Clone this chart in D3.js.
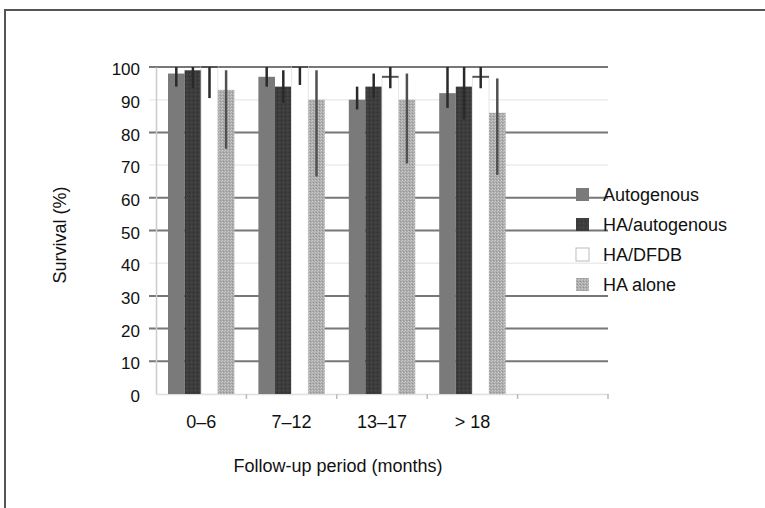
<!DOCTYPE html>
<html>
<head>
<meta charset="utf-8">
<script src="https://cdn.jsdelivr.net/npm/d3@7"></script>
<style>
  body { margin: 0; background: #fff; }
  text { font-family: "Liberation Sans", Arial, sans-serif; fill: #111; }
</style>
</head>
<body>
<div id="chart-area"></div>
<script>
const categories = ["0–6", "7–12", "13–17", "> 18"];
const seriesNames = ["Autogenous", "HA/autogenous", "HA/DFDB", "HA alone"];

const autogenous = [98, 97, 90, 92];
const haAutogenous = [99, 94, 94, 94];
const haDfdb = [100, 100, 97, 97];
const haAlone = [93, 90, 90, 86];

// error bar ends (low, high)
const autogenousLo = [94, 94, 87, 87.5], autogenousHi = [100, 100, 94, 100];
const haAutogenousLo = [93.5, 89, 90.5, 84], haAutogenousHi = [100, 99, 98, 100];
const haDfdbLo = [90.5, 94.5, 93.5, 93.5], haDfdbHi = [100, 100, 100, 100];
const haAloneLo = [75, 66.5, 70.5, 67], haAloneHi = [99, 99, 98, 96.5];

const yTicks = [0, 10, 20, 30, 40, 50, 60, 70, 80, 90, 100];
const lightGrid = [90, 70, 40];

const values = [autogenous, haAutogenous, haDfdb, haAlone];
const lows = [autogenousLo, haAutogenousLo, haDfdbLo, haAloneLo];
const highs = [autogenousHi, haAutogenousHi, haDfdbHi, haAloneHi];

const rows = [];
categories.forEach((c, i) => {
    seriesNames.forEach((s, j) => {
        rows.push({ cat: c, series: s, value: values[j][i], lo: lows[j][i], hi: highs[j][i] });
    });
});

const fontSize = 18;

const svg = d3.select("#chart-area").append("svg")
    .attr("width", 765)
    .attr("height", 508);

// textures
const defs = svg.append("defs");
const darkPat = defs.append("pattern").attr("id", "darkTex")
    .attr("patternUnits", "userSpaceOnUse").attr("width", 4).attr("height", 4);
darkPat.append("rect").attr("width", 4).attr("height", 4).attr("fill", "#3d3d3d");
darkPat.append("rect").attr("x", 1).attr("y", 0).attr("width", 1).attr("height", 1).attr("fill", "#2c2c2c");
darkPat.append("rect").attr("x", 3).attr("y", 2).attr("width", 1).attr("height", 1).attr("fill", "#4c4c4c");

const lightPat = defs.append("pattern").attr("id", "lightTex")
    .attr("patternUnits", "userSpaceOnUse").attr("width", 3).attr("height", 3);
lightPat.append("rect").attr("width", 3).attr("height", 3).attr("fill", "#acacac");
lightPat.append("rect").attr("x", 0).attr("y", 0).attr("width", 1).attr("height", 1).attr("fill", "#cdcdcd");
lightPat.append("rect").attr("x", 2).attr("y", 1).attr("width", 1).attr("height", 1).attr("fill", "#c4c4c4");
lightPat.append("rect").attr("x", 1).attr("y", 2).attr("width", 1).attr("height", 1).attr("fill", "#979797");

const fills = {
    "Autogenous": "#7a7a7a",
    "HA/autogenous": "url(#darkTex)",
    "HA/DFDB": "#fff",
    "HA alone": "url(#lightTex)"
};

// frame
svg.append("path")
    .attr("d", "M5,510 L5,10 L770,10")
    .attr("fill", "none").attr("stroke", "#555").attr("stroke-width", 2);

const plotLeft = 156, plotRight = 608;
const x0 = d3.scaleBand()
    .domain([...categories, ""])
    .range([plotLeft, plotRight]);
const x1 = d3.scaleBand()
    .domain(seriesNames)
    .range([12, x0.bandwidth() - 12]);
const y = d3.scaleLinear().domain([0, 100]).range([394, 67]);

// grid
svg.append("g").selectAll("line")
    .data(yTicks.filter(t => t > 0))
    .join("line")
    .attr("x1", 149).attr("x2", plotRight)
    .attr("y1", d => y(d)).attr("y2", d => y(d))
    .attr("stroke", d => lightGrid.includes(d) ? "#ececec" : "#777")
    .attr("stroke-width", d => lightGrid.includes(d) ? 1.5 : 2);

// y axis
const yAxis = svg.append("g")
    .attr("transform", `translate(${plotLeft},0)`)
    .call(d3.axisLeft(y).tickValues(yTicks).tickSize(0).tickPadding(16));
yAxis.select(".domain").attr("stroke", "#ccc").attr("stroke-width", 1.5);
yAxis.selectAll("text").attr("font-size", 17).attr("dy", "0.45em")
    .attr("font-family", "Liberation Sans, Arial, sans-serif").attr("fill", "#111");

// x axis
const xAxis = svg.append("g")
    .attr("transform", `translate(0,${y(0)})`)
    .call(d3.axisBottom(x0).tickSize(0).tickPadding(21));
xAxis.select(".domain").attr("stroke", "#ddd").attr("stroke-width", 1.5);
xAxis.selectAll("text").attr("font-size", fontSize)
    .attr("font-family", "Liberation Sans, Arial, sans-serif").attr("fill", "#111");
svg.append("g").selectAll("line")
    .data(x0.domain().slice(1).map(d => x0(d)).concat([plotRight]))
    .join("line")
    .attr("x1", d => d).attr("x2", d => d)
    .attr("y1", y(0)).attr("y2", y(0) + 5)
    .attr("stroke", "#bbb").attr("stroke-width", 1.5);

// bars
const bars = svg.append("g");
bars.selectAll("rect")
    .data(rows)
    .join("rect")
    .attr("x", d => x0(d.cat) + x1(d.series))
    .attr("y", d => y(d.value))
    .attr("width", x1.bandwidth())
    .attr("height", d => y(0) - y(d.value))
    .attr("fill", d => fills[d.series])
    .attr("stroke", d => d.series === "HA/DFDB" ? "#e6e6e6" : "none");

// dark top edge on the white bars
bars.selectAll("line.top")
    .data(rows.filter(d => d.series === "HA/DFDB"))
    .join("line")
    .attr("class", "top")
    .attr("x1", d => x0(d.cat) + x1(d.series))
    .attr("x2", d => x0(d.cat) + x1(d.series) + x1.bandwidth())
    .attr("y1", d => y(d.value)).attr("y2", d => y(d.value))
    .attr("stroke", "#555").attr("stroke-width", 2);

// error bars
bars.selectAll("line.err")
    .data(rows)
    .join("line")
    .attr("class", "err")
    .attr("x1", d => x0(d.cat) + x1(d.series) + x1.bandwidth() / 2)
    .attr("x2", d => x0(d.cat) + x1(d.series) + x1.bandwidth() / 2)
    .attr("y1", d => y(d.lo)).attr("y2", d => y(d.hi))
    .attr("stroke", d => d.series === "HA alone" ? "#505050" : "#2a2a2a")
    .attr("stroke-width", 2.5);

// legend
const legend = svg.append("g");
const legendItems = legend.selectAll("g")
    .data(seriesNames)
    .join("g")
    .attr("transform", (d, i) => `translate(576, ${195 + i * 30})`);
legendItems.append("rect")
    .attr("x", 0).attr("y", -7)
    .attr("width", 13).attr("height", 13)
    .attr("fill", d => fills[d])
    .attr("stroke", d => d === "HA/DFDB" ? "#bbb" : "none");
legendItems.append("text")
    .attr("x", 27).attr("dy", "0.35em")
    .attr("font-size", fontSize)
    .text(d => d);

// titles
svg.append("text")
    .attr("x", 338).attr("y", 466)
    .attr("text-anchor", "middle").attr("dy", "0.35em")
    .attr("font-size", fontSize)
    .text("Follow-up period (months)");

svg.append("text")
    .attr("transform", "translate(60,235) rotate(-90)")
    .attr("text-anchor", "middle").attr("dy", "0.35em")
    .attr("font-size", fontSize)
    .text("Survival (%)");
</script>
</body>
</html>
